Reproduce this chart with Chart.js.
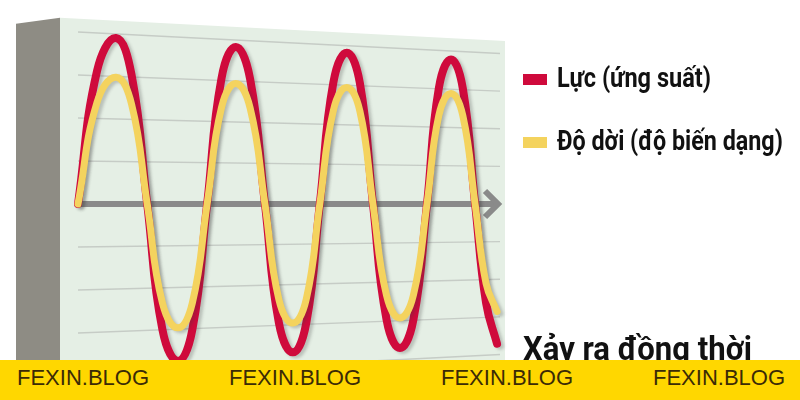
<!DOCTYPE html>
<html lang="vi">

<head>
    <meta charset="UTF-8">
    <title>Lực và độ dời - xảy ra đồng thời</title>
    <script src="https://cdn.jsdelivr.net/npm/chart.js"></script>
    <style>
        body {
            margin: 0;
            background: #fff;
        }

        #wrap {
            position: relative;
            width: 800px;
            height: 400px;
            overflow: hidden;
        }

        .txt {
            position: absolute;
            font-family: Roboto, "DejaVu Sans Condensed", sans-serif;
            font-weight: bold;
            color: #111;
            white-space: nowrap;
            transform-origin: left top;
        }

        .box {
            position: absolute;
            width: 24px;
            height: 11px;
        }

        #banner {
            position: absolute;
            left: 0;
            top: 360px;
            width: 800px;
            height: 40px;
            background: #ffd700;
        }

        #banner span {
            position: absolute;
            top: 5px;
            font-family: "Liberation Sans", Arial, sans-serif;
            font-size: 22px;
            line-height: 25px;
            color: #3b2b06;
        }
    </style>
</head>

<body>
    <div id="wrap">
        <canvas id="waveChart"></canvas>

        <!-- legend -->
        <div class="box" style="left:523px; top:74px; background:#cf0a3c"></div>
        <div class="txt" data-w="154" style="left:557px; top:64px; font-size:28px; line-height:28px">Lực (ứng suất)</div>
        <div class="box" style="left:523px; top:137px; background:#f4d35e"></div>
        <div class="txt" data-w="226" style="left:557px; top:127px; font-size:28px; line-height:28px">Độ dời (độ biến dạng)</div>

        <div class="txt" data-w="229" style="left:523px; top:331px; font-size:34px; line-height:34px">Xảy ra đồng thời</div>

        <div id="banner">
            <span style="left:17px">FEXIN.BLOG</span>
            <span style="left:229px">FEXIN.BLOG</span>
            <span style="left:441px">FEXIN.BLOG</span>
            <span style="left:653px">FEXIN.BLOG</span>
        </div>
    </div>

    <script type='text/javascript'>
        // time positions (both curves are in phase)
        var times = [0, 0.45, 0.90, 1.27, 1.64, 2.00, 2.37, 2.71, 3.06, 3.40, 3.74, 4.08, 4.43, 4.76, 5.09, 5.41,
            5.73, 6.05, 6.37, 6.68, 6.99, 7.31, 7.63, 7.95, 8.27, 8.55, 8.84, 9.12, 9.41, 9.67, 9.93];

        // Lực (ứng suất) - red
        var stress = [0, 3.09, 3.86, 3.00, 0, -2.92, -3.65, -2.92, 0, 2.92, 3.65, 2.90, 0, -2.76, -3.45, -2.76,
            0, 2.82, 3.52, 2.81, 0, -2.68, -3.35, -2.68, 0, 2.69, 3.36, 2.68, 0, -2.30, -3.25];

        // Độ dời (độ biến dạng) - yellow
        var strain = [0, 2.36, 2.95, 2.32, 0, -2.30, -2.88, -2.30, 0, 2.24, 2.80, 2.23, 0, -2.22, -2.77, -2.21,
            0, 2.17, 2.71, 2.16, 0, -2.12, -2.65, -2.11, 0, 2.06, 2.57, 2.05, 0, -1.85, -2.50];

        // horizontal guide lines of the board
        var gridValues = [-4, -3, -2, -1, 1, 2, 3, 4];

        var seriesNames = ['Lực (ứng suất)', 'Độ dời (độ biến dạng)'];

        var toPoints = function (vals) {
            return vals.map(function (v, i) { return { x: times[i], y: v }; });
        };

        // the board is drawn slightly in perspective: lines converge toward the right
        var SHRINK = 0.875;

        var boardPlugin = {
            id: 'board',
            beforeDraw: function (chart) {
                var ctx = chart.ctx;
                var xs = chart.scales.x, ys = chart.scales.y;
                var x0 = xs.getPixelForValue(0), x1 = xs.getPixelForValue(10);
                var y0 = ys.getPixelForValue(0);
                var left = x0 - 18, right = x1 + 5;
                var topL = ys.getPixelForValue(4.33);
                var topR = y0 + (topL - y0) * SHRINK;
                ctx.save();
                // side face
                ctx.fillStyle = '#8e8c84';
                ctx.beginPath();
                ctx.moveTo(left - 44, topL + 6);
                ctx.lineTo(left, topL);
                ctx.lineTo(left, chart.height);
                ctx.lineTo(left - 44, chart.height);
                ctx.closePath();
                ctx.fill();
                // front face
                ctx.fillStyle = '#e5efe5';
                ctx.beginPath();
                ctx.moveTo(left, topL);
                ctx.lineTo(right, topR);
                ctx.lineTo(right, chart.height);
                ctx.lineTo(left, chart.height);
                ctx.closePath();
                ctx.fill();
                ctx.restore();
            },
            beforeDatasetsDraw: function (chart) {
                var ctx = chart.ctx;
                var xs = chart.scales.x, ys = chart.scales.y;
                var x0 = xs.getPixelForValue(0), x1 = xs.getPixelForValue(10);
                var y0 = ys.getPixelForValue(0);
                ctx.save();
                ctx.strokeStyle = '#c6ccc6';
                ctx.lineWidth = 1.5;
                gridValues.forEach(function (v) {
                    var yl = ys.getPixelForValue(v);
                    var yr = y0 + (yl - y0) * SHRINK;
                    ctx.beginPath();
                    ctx.moveTo(x0, yl);
                    ctx.lineTo(x1, yr);
                    ctx.stroke();
                });
                // time axis with arrow
                ctx.strokeStyle = '#8a8a8a';
                ctx.lineWidth = 6;
                ctx.beginPath();
                ctx.moveTo(x0, y0);
                ctx.lineTo(x1 - 4, y0);
                ctx.stroke();
                ctx.lineJoin = 'miter';
                ctx.beginPath();
                ctx.moveTo(x1 - 15, y0 - 13);
                ctx.lineTo(x1 - 2, y0);
                ctx.lineTo(x1 - 15, y0 + 13);
                ctx.stroke();
                ctx.restore();
            },
            beforeDatasetDraw: function (chart) {
                var ctx = chart.ctx;
                ctx.save();
                ctx.shadowColor = 'rgba(60,60,60,0.25)';
                ctx.shadowBlur = 3;
                ctx.shadowOffsetX = 3;
                ctx.shadowOffsetY = 2;
            },
            afterDatasetDraw: function (chart) {
                chart.ctx.restore();
            }
        };

        var ctx = document.getElementById('waveChart').getContext('2d');

        new Chart(ctx, {
            type: 'line',
            data: {
                datasets: [{
                    label: seriesNames[0],
                    data: toPoints(stress),
                    borderColor: '#cf0a3c',
                    borderWidth: 8,
                    order: 2
                }, {
                    label: seriesNames[1],
                    data: toPoints(strain),
                    borderColor: '#f4d35e',
                    borderWidth: 7,
                    order: 1
                }]
            },
            options: {
                responsive: true,
                maintainAspectRatio: false,
                animation: false,
                layout: { padding: { left: 78, right: 300, top: 10.5, bottom: 2.5 } },
                elements: {
                    point: { radius: 0 },
                    line: {
                        tension: 0.45,
                        borderCapStyle: 'round',
                        borderJoinStyle: 'round',
                        fill: false
                    }
                },
                datasets: { line: { clip: 12 } },
                scales: {
                    x: { type: 'linear', min: 0, max: 10, display: false },
                    y: { min: -4.5, max: 4.5, display: false }
                },
                plugins: {
                    legend: { display: false },
                    tooltip: { enabled: false }
                }
            },
            plugins: [boardPlugin]
        });

        // squeeze the bold text to the narrow look of the original lettering
        document.querySelectorAll('.txt').forEach(function (el) {
            var w = el.getBoundingClientRect().width;
            var target = parseFloat(el.getAttribute('data-w'));
            el.style.transform = 'scaleX(' + (target / w).toFixed(3) + ')';
        });
    </script>

</body>

</html>
